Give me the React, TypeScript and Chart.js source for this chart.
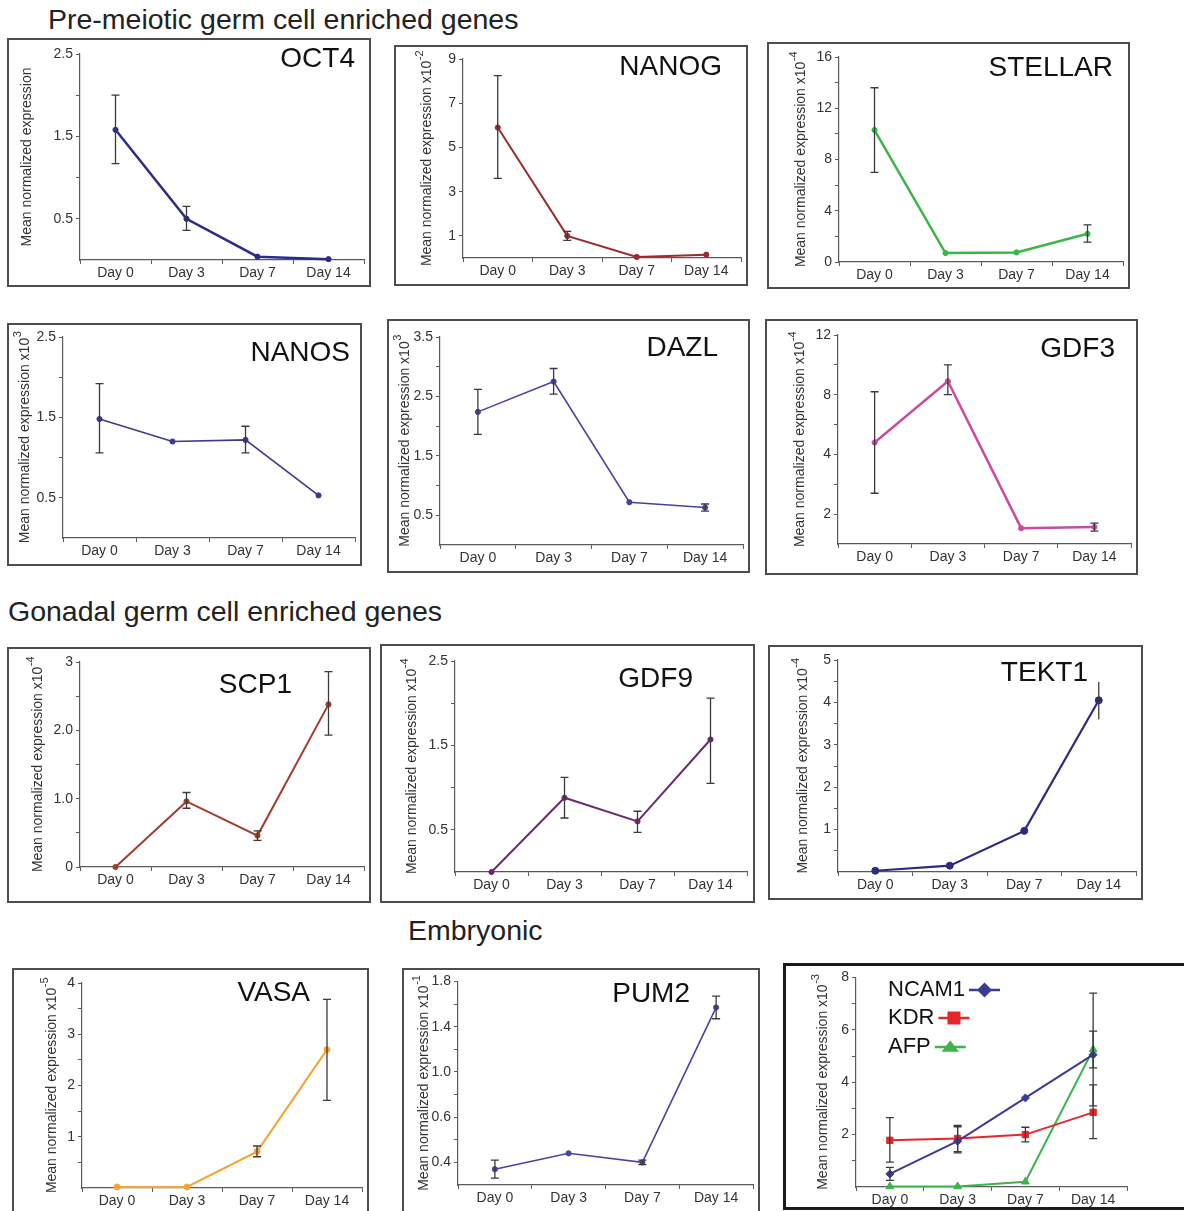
import React, { useEffect, useRef } from 'react';
import { Chart, registerables, LinearScale } from 'chart.js';

Chart.register(...registerables);

const FONT = "'Liberation Sans', Arial, Helvetica, sans-serif";
Chart.defaults.font.family = FONT;

// ---------------- DATA ----------------
const DAYS = ['Day 0', 'Day 3', 'Day 7', 'Day 14'];

const OCT4_MEAN = [1.58, 0.5, 0.04, 0.01];
const OCT4_HI = [2.0, 0.65, null, null];
const OCT4_LO = [1.17, 0.36, null, null];
const OCT4_TICKS = [0.5, 1, 1.5, 2, 2.5];
const OCT4_TICK_LABELS = ['0.5', '', '1.5', '', '2.5'];

const NANOG_MEAN = [5.9, 1.0, 0.05, 0.15];
const NANOG_HI = [8.25, 1.2, null, null];
const NANOG_LO = [3.6, 0.8, null, null];
const NANOG_TICKS = [1, 3, 5, 7, 9];
const NANOG_TICK_LABELS = ['1', '3', '5', '7', '9'];

const STELLAR_MEAN = [10.3, 0.7, 0.75, 2.2];
const STELLAR_HI = [13.6, null, null, 2.9];
const STELLAR_LO = [7.0, null, null, 1.55];
const STELLAR_TICKS = [0, 2, 4, 6, 8, 10, 12, 14, 16];
const STELLAR_TICK_LABELS = ['0', '', '4', '', '8', '', '12', '', '16'];

const NANOS_MEAN = [1.48, 1.2, 1.22, 0.53];
const NANOS_HI = [1.92, null, 1.39, null];
const NANOS_LO = [1.06, null, 1.06, null];
const NANOS_TICKS = [0.5, 1, 1.5, 2, 2.5];
const NANOS_TICK_LABELS = ['0.5', '', '1.5', '', '2.5'];

const DAZL_MEAN = [2.24, 2.75, 0.72, 0.63];
const DAZL_HI = [2.62, 2.97, null, 0.69];
const DAZL_LO = [1.86, 2.54, null, 0.57];
const DAZL_TICKS = [0.5, 1, 1.5, 2, 2.5, 3, 3.5];
const DAZL_TICK_LABELS = ['0.5', '', '1.5', '', '2.5', '', '3.5'];

const GDF3_MEAN = [4.8, 8.9, 1.53, 1.57];
const GDF3_HI = [8.2, 10.0, null, 1.7];
const GDF3_LO = [2.7, 8.0, null, 1.43];
const GDF3_TICKS = [2, 3, 4, 6, 8, 10, 12];
const GDF3_TICK_LABELS = ['2', '', '4', '', '8', '', '12'];
const GDF3_AXIS_VALUES = [2, 4, 8, 12];
const GDF3_AXIS_STEPS = [0.5, 1.5, 2.5, 3.5];

const SCP1_MEAN = [0.0, 0.96, 0.46, 2.38];
const SCP1_HI = [null, 1.09, 0.53, 2.86];
const SCP1_LO = [null, 0.86, 0.39, 1.93];
const SCP1_TICKS = [0, 0.5, 1, 1.5, 2, 2.5, 3];
const SCP1_TICK_LABELS = ['0', '', '1.0', '', '2.0', '', '3'];

const GDF9_MEAN = [0.0, 0.88, 0.6, 1.57];
const GDF9_HI = [null, 1.12, 0.72, 2.06];
const GDF9_LO = [null, 0.64, 0.47, 1.05];
const GDF9_TICKS = [0.5, 1, 1.5, 2, 2.5];
const GDF9_TICK_LABELS = ['0.5', '', '1.5', '', '2.5'];

const TEKT1_MEAN = [0.03, 0.15, 0.97, 4.05];
const TEKT1_HI = [null, null, null, 4.48];
const TEKT1_LO = [null, null, null, 3.6];
const TEKT1_TICKS = [0.5, 1, 1.5, 2, 2.5, 3, 3.5, 4, 4.5, 5];
const TEKT1_TICK_LABELS = ['', '1', '', '2', '', '3', '', '4', '', '5'];

const VASA_MEAN = [0.02, 0.02, 0.71, 2.7];
const VASA_HI = [null, null, 0.82, 3.68];
const VASA_LO = [null, null, 0.61, 1.71];
const VASA_TICKS = [0.5, 1, 1.5, 2, 2.5, 3, 3.5, 4];
const VASA_TICK_LABELS = ['', '1', '', '2', '', '3', '', '4'];

const PUM2_MEAN = [0.37, 0.44, 0.4, 1.57];
const PUM2_HI = [0.41, null, 0.41, 1.67];
const PUM2_LO = [0.33, null, 0.39, 1.47];
const PUM2_TICKS = [0.4, 0.5, 0.6, 0.8, 1.0, 1.2, 1.4, 1.6, 1.8];
const PUM2_TICK_LABELS = ['0.4', '', '0.6', '', '1.0', '', '1.4', '', '1.8'];
const PUM2_AXIS_VALUES = [0.4, 0.6, 1.0, 1.4, 1.8];
const PUM2_AXIS_STEPS = [1, 2, 3, 4, 5];

const NCAM1_MEAN = [0.5, 1.75, 3.4, 5.05];
const NCAM1_HI = [0.75, 2.3, null, 5.95];
const NCAM1_LO = [0.25, 1.3, null, 4.55];
const KDR_MEAN = [1.78, 1.85, 2.0, 2.85];
const KDR_HI = [2.65, 2.35, 2.28, 3.9];
const KDR_LO = [0.95, 1.35, 1.72, 1.85];
const AFP_MEAN = [0.02, 0.02, 0.2, 5.25];
const AFP_HI = [null, null, null, 7.4];
const AFP_LO = [null, null, null, 3.1];
const EMB_TICKS = [1, 2, 3, 4, 5, 6, 7, 8];
const EMB_TICK_LABELS = ['', '2', '', '4', '', '6', '', '8'];

const Y_TITLE = 'Mean normalized expression';

// ---------------- custom piecewise axis ----------------
class PiecewiseScale extends LinearScale {
  static id = 'piecewise';
  toU(v: number): number {
    const av: number[] = (this.options as any).anchorValues;
    const au: number[] = (this.options as any).anchorUnits;
    let i = 0;
    while (i < av.length - 2 && v > av[i + 1]) i++;
    return au[i] + ((v - av[i]) * (au[i + 1] - au[i])) / (av[i + 1] - av[i]);
  }
  configure() {
    super.configure();
    const s = this.toU(this.min);
    const e = this.toU(this.max);
    (this as any)._startValue = s;
    (this as any)._endValue = e;
    (this as any)._valueRange = e - s;
  }
  getPixelForValue(v: any) {
    if (v === null || v === undefined || Number.isNaN(v)) return NaN;
    return this.getPixelForDecimal((this.toU(v) - (this as any)._startValue) / (this as any)._valueRange);
  }
}
Chart.register(PiecewiseScale as any);

// ---------------- plugins ----------------
const AXIS_COLOR = '#5a5a5a';
const TEXT_COLOR = '#333';

const errorBarPlugin = {
  id: 'errorBars',
  afterDatasetsDraw(chart: any, _args: any, opts: any) {
    const ctx = chart.ctx;
    const y = chart.scales.y;
    const cap = opts && typeof opts.cap === 'number' ? opts.cap : 4;
    chart.data.datasets.forEach((ds: any, di: number) => {
      if (!ds.errHi) return;
      const meta = chart.getDatasetMeta(di);
      ds.errHi.forEach((hi: any, j: number) => {
        const lo = ds.errLo[j];
        if (hi == null || lo == null) return;
        const x = meta.data[j].x;
        const yh = y.getPixelForValue(hi);
        const yl = y.getPixelForValue(lo);
        ctx.save();
        ctx.strokeStyle = '#3a3a3a';
        ctx.lineWidth = 1.3;
        ctx.beginPath();
        ctx.moveTo(x, yh);
        ctx.lineTo(x, yl);
        if (cap > 0) {
          ctx.moveTo(x - cap, yh);
          ctx.lineTo(x + cap, yh);
          ctx.moveTo(x - cap, yl);
          ctx.lineTo(x + cap, yl);
        }
        ctx.stroke();
        ctx.restore();
      });
    });
  },
};

const yTitlePlugin = {
  id: 'yTitle',
  afterDraw(chart: any, _args: any, opts: any) {
    if (!opts || !opts.text) return;
    const ctx = chart.ctx;
    const area = chart.chartArea;
    const cy = (area.top + area.bottom) / 2;
    const mainFont = `${opts.size}px ${FONT}`;
    const supFont = `${opts.supSize}px ${FONT}`;
    ctx.save();
    ctx.translate(opts.x, cy);
    ctx.rotate(-Math.PI / 2);
    ctx.fillStyle = TEXT_COLOR;
    ctx.textBaseline = 'middle';
    ctx.textAlign = 'left';
    ctx.font = mainFont;
    const w1 = ctx.measureText(opts.text).width;
    ctx.font = supFont;
    const w2 = opts.sup ? ctx.measureText(opts.sup).width : 0;
    const x0 = -(w1 + w2) / 2;
    ctx.font = mainFont;
    ctx.fillText(opts.text, x0, 0);
    if (opts.sup) {
      ctx.font = supFont;
      ctx.fillText(opts.sup, x0 + w1 + 0.5, -opts.size * 0.5);
    }
    ctx.restore();
  },
};

function drawMarker(ctx: any, style: string, x: number, y: number, r: number, color: string) {
  ctx.fillStyle = color;
  ctx.beginPath();
  if (style === 'rectRot') {
    ctx.moveTo(x, y - r);
    ctx.lineTo(x + r, y);
    ctx.lineTo(x, y + r);
    ctx.lineTo(x - r, y);
  } else if (style === 'rect') {
    ctx.rect(x - r, y - r, 2 * r, 2 * r);
  } else {
    ctx.moveTo(x, y - r * 0.8);
    ctx.lineTo(x + r * 1.1, y + r * 0.6);
    ctx.lineTo(x - r * 1.1, y + r * 0.6);
  }
  ctx.closePath();
  ctx.fill();
}

const inlineLegendPlugin = {
  id: 'inlineLegend',
  afterDraw(chart: any, _args: any, opts: any) {
    if (!opts || !opts.display) return;
    const ctx = chart.ctx;
    ctx.save();
    ctx.font = `${opts.fontSize}px ${FONT}`;
    ctx.textBaseline = 'middle';
    ctx.textAlign = 'left';
    chart.data.datasets.forEach((ds: any, i: number) => {
      const y = opts.ys[i];
      ctx.fillStyle = '#111';
      ctx.fillText(ds.label, opts.x, y);
      const w = ctx.measureText(ds.label).width;
      const x0 = opts.x + w + 4;
      const x1 = x0 + opts.lineLen;
      ctx.strokeStyle = ds.borderColor;
      ctx.lineWidth = 2.5;
      ctx.beginPath();
      ctx.moveTo(x0, y);
      ctx.lineTo(x1, y);
      ctx.stroke();
      drawMarker(ctx, ds.pointStyle, (x0 + x1) / 2, y, opts.markerR[i], ds.borderColor);
    });
    ctx.restore();
  },
};

// ---------------- layout / style config ----------------
type Series = {
  label: string;
  mean: number[];
  hi: (number | null)[];
  lo: (number | null)[];
  color: string;
  width: number;
  pointStyle?: string;
  radius?: number;
};

type PanelCfg = {
  key: string;
  box: number[];
  plot: number[];
  bw: number;
  borderColor: string;
  titleX: number;
  unit: string;
  sup: string;
  yMin: number;
  yMax: number;
  ticks: number[];
  tickLabels: string[];
  axisValues?: number[];
  axisSteps?: number[];
  series: Series[];
  cap?: number;
  legend?: boolean;
};

const PANEL_BORDER = '#4d4d4d';

const PANELS: PanelCfg[] = [
  {
    key: 'OCT4', box: [7, 38, 371, 287], plot: [80, 54, 365, 260], bw: 2, borderColor: PANEL_BORDER,
    titleX: 27, unit: '', sup: '', yMin: 0, yMax: 2.5, ticks: OCT4_TICKS, tickLabels: OCT4_TICK_LABELS,
    series: [{ label: 'OCT4', mean: OCT4_MEAN, hi: OCT4_HI, lo: OCT4_LO, color: '#2e2b88', width: 2.5 }],
  },
  {
    key: 'NANOG', box: [394, 45, 748, 286], plot: [463, 59, 742, 258], bw: 2, borderColor: PANEL_BORDER,
    titleX: 427, unit: ' x10', sup: '-2', yMin: 0, yMax: 9, ticks: NANOG_TICKS, tickLabels: NANOG_TICK_LABELS,
    series: [{ label: 'NANOG', mean: NANOG_MEAN, hi: NANOG_HI, lo: NANOG_LO, color: '#9b2b2d', width: 2 }],
  },
  {
    key: 'STELLAR', box: [767, 42, 1130, 289], plot: [839, 57, 1123, 262], bw: 2, borderColor: PANEL_BORDER,
    titleX: 801, unit: ' x10', sup: '-4', yMin: 0, yMax: 16, ticks: STELLAR_TICKS, tickLabels: STELLAR_TICK_LABELS,
    series: [{ label: 'STELLAR', mean: STELLAR_MEAN, hi: STELLAR_HI, lo: STELLAR_LO, color: '#3bb54a', width: 2.5 }],
  },
  {
    key: 'NANOS', box: [7, 323, 362, 566], plot: [63, 337, 355, 538], bw: 2, borderColor: PANEL_BORDER,
    titleX: 25, unit: ' x10', sup: '3', yMin: 0, yMax: 2.5, ticks: NANOS_TICKS, tickLabels: NANOS_TICK_LABELS,
    series: [{ label: 'NANOS', mean: NANOS_MEAN, hi: NANOS_HI, lo: NANOS_LO, color: '#3c3a8c', width: 1.6 }],
  },
  {
    key: 'DAZL', box: [387, 319, 750, 573], plot: [440, 337, 745, 545], bw: 2, borderColor: PANEL_BORDER,
    titleX: 405, unit: ' x10', sup: '3', yMin: 0, yMax: 3.5, ticks: DAZL_TICKS, tickLabels: DAZL_TICK_LABELS,
    series: [{ label: 'DAZL', mean: DAZL_MEAN, hi: DAZL_HI, lo: DAZL_LO, color: '#4544a0', width: 1.6 }],
  },
  {
    key: 'GDF3', box: [765, 319, 1138, 575], plot: [838, 335, 1131, 544], bw: 2, borderColor: PANEL_BORDER,
    titleX: 800, unit: ' x10', sup: '-4', yMin: 1, yMax: 12, ticks: GDF3_TICKS, tickLabels: GDF3_TICK_LABELS,
    axisValues: GDF3_AXIS_VALUES, axisSteps: GDF3_AXIS_STEPS,
    series: [{ label: 'GDF3', mean: GDF3_MEAN, hi: GDF3_HI, lo: GDF3_LO, color: '#c64d9f', width: 2.5 }],
  },
  {
    key: 'SCP1', box: [7, 647, 371, 903], plot: [80, 662, 367, 867], bw: 2, borderColor: PANEL_BORDER,
    titleX: 38, unit: ' x10', sup: '-4', yMin: 0, yMax: 3, ticks: SCP1_TICKS, tickLabels: SCP1_TICK_LABELS,
    series: [{ label: 'SCP1', mean: SCP1_MEAN, hi: SCP1_HI, lo: SCP1_LO, color: '#a13d2a', width: 2 }],
  },
  {
    key: 'GDF9', box: [380, 644, 755, 903], plot: [455, 661, 747, 872], bw: 2, borderColor: PANEL_BORDER,
    titleX: 412, unit: ' x10', sup: '-4', yMin: 0, yMax: 2.5, ticks: GDF9_TICKS, tickLabels: GDF9_TICK_LABELS,
    series: [{ label: 'GDF9', mean: GDF9_MEAN, hi: GDF9_HI, lo: GDF9_LO, color: '#6a2c6c', width: 2 }],
  },
  {
    key: 'TEKT1', box: [768, 645, 1143, 900], plot: [838, 660, 1136, 872], bw: 2, borderColor: PANEL_BORDER,
    titleX: 803, unit: ' x10', sup: '-4', yMin: 0, yMax: 5, ticks: TEKT1_TICKS, tickLabels: TEKT1_TICK_LABELS, cap: 0,
    series: [{ label: 'TEKT1', mean: TEKT1_MEAN, hi: TEKT1_HI, lo: TEKT1_LO, color: '#2c2b80', width: 2.2, radius: 3.5 }],
  },
  {
    key: 'VASA', box: [12, 968, 369, 1230], plot: [82, 983, 367, 1188], bw: 2, borderColor: PANEL_BORDER,
    titleX: 52, unit: ' x10', sup: '-5', yMin: 0, yMax: 4, ticks: VASA_TICKS, tickLabels: VASA_TICK_LABELS,
    series: [{ label: 'VASA', mean: VASA_MEAN, hi: VASA_HI, lo: VASA_LO, color: '#f4a431', width: 2, radius: 3 }],
  },
  {
    key: 'PUM2', box: [402, 968, 760, 1230], plot: [458, 981, 757, 1185], bw: 2, borderColor: PANEL_BORDER,
    titleX: 424, unit: ' x10', sup: '-1', yMin: 0.3, yMax: 1.8, ticks: PUM2_TICKS, tickLabels: PUM2_TICK_LABELS,
    axisValues: PUM2_AXIS_VALUES, axisSteps: PUM2_AXIS_STEPS,
    series: [{ label: 'PUM2', mean: PUM2_MEAN, hi: PUM2_HI, lo: PUM2_LO, color: '#4645a0', width: 1.6 }],
  },
  {
    key: 'EMB', box: [783, 963, 1192, 1210], plot: [856, 977, 1127, 1187], bw: 3, borderColor: '#1a1a1a',
    titleX: 823, unit: ' x10', sup: '-3', yMin: 0, yMax: 8, ticks: EMB_TICKS, tickLabels: EMB_TICK_LABELS, legend: true,
    series: [
      { label: 'NCAM1', mean: NCAM1_MEAN, hi: NCAM1_HI, lo: NCAM1_LO, color: '#3a3b93', width: 2, pointStyle: 'rectRot', radius: 4 },
      { label: 'KDR', mean: KDR_MEAN, hi: KDR_HI, lo: KDR_LO, color: '#e8262a', width: 2, pointStyle: 'rect', radius: 4.5 },
      { label: 'AFP', mean: AFP_MEAN, hi: AFP_HI, lo: AFP_LO, color: '#3cb44b', width: 2, pointStyle: 'triangle', radius: 4.5 },
    ],
  },
];

const GENE_LABELS = [
  { text: 'OCT4', right: 355, cy: 58 },
  { text: 'NANOG', right: 722, cy: 66 },
  { text: 'STELLAR', right: 1113, cy: 67 },
  { text: 'NANOS', right: 350, cy: 352 },
  { text: 'DAZL', right: 718, cy: 347 },
  { text: 'GDF3', right: 1115, cy: 348 },
  { text: 'SCP1', right: 292, cy: 684 },
  { text: 'GDF9', right: 693, cy: 678 },
  { text: 'TEKT1', right: 1088, cy: 672 },
  { text: 'VASA', right: 310, cy: 992 },
  { text: 'PUM2', right: 690, cy: 993 },
];

const SECTION_TITLES = [
  { text: 'Pre-meiotic germ cell enriched genes', left: 48, cy: 19 },
  { text: 'Gonadal germ cell enriched genes', left: 8, cy: 611 },
  { text: 'Embryonic', left: 408, cy: 930 },
];

function Panel({ cfg }: { cfg: PanelCfg }) {
  const ref = useRef<HTMLCanvasElement>(null);
  const [l, t, r, b] = cfg.box;
  const bw = cfg.bw;
  const W = r - l - 2 * bw;
  const H = b - t - 2 * bw;

  useEffect(() => {
    const cx0 = l + bw;
    const cy0 = t + bw;
    const [pl, ptop, pr, pbot] = cfg.plot;
    const yW = pl - cx0;
    const padTop = ptop - cy0;
    const padRight = cx0 + W - pr;
    const below = cy0 + H - pbot;
    const xH = Math.min(24, below);
    const padBottom = Math.max(0, below - xH);

    const datasets = cfg.series.map((s) => ({
      label: s.label,
      data: s.mean,
      borderColor: s.color,
      backgroundColor: s.color,
      pointBackgroundColor: s.color,
      pointBorderColor: s.color,
      borderWidth: s.width,
      pointRadius: s.radius ?? 2.6,
      pointStyle: s.pointStyle ?? 'circle',
      pointBorderWidth: 1,
      tension: 0,
      clip: false,
      errHi: s.hi,
      errLo: s.lo,
    }));

    const yScale: any = {
      type: cfg.axisValues ? 'piecewise' : 'linear',
      min: cfg.yMin,
      max: cfg.yMax,
      grid: { drawOnChartArea: false, drawTicks: true, tickLength: 4, color: AXIS_COLOR },
      border: { color: AXIS_COLOR, width: 1.2 },
      ticks: {
        color: TEXT_COLOR,
        font: { size: 14 },
        padding: 3,
        autoSkip: false,
        callback: (_v: any, i: number) => cfg.tickLabels[i],
      },
      afterBuildTicks: (s: any) => {
        s.ticks = cfg.ticks.map((v) => ({ value: v }));
      },
      afterFit: (s: any) => {
        s.width = yW;
      },
      title: { display: false },
    };
    if (cfg.axisValues) {
      yScale.anchorValues = cfg.axisValues;
      yScale.anchorUnits = cfg.axisSteps;
    }

    const chart = new Chart(ref.current as HTMLCanvasElement, {
      type: 'line',
      data: { labels: DAYS, datasets: datasets as any },
      options: {
        responsive: false,
        animation: false,
        events: [],
        layout: { padding: { left: 0, top: padTop, right: padRight, bottom: padBottom } },
        plugins: {
          legend: { display: false },
          tooltip: { enabled: false },
          errorBars: { cap: cfg.cap ?? 4 },
          yTitle: { text: Y_TITLE + cfg.unit, sup: cfg.sup, x: cfg.titleX - cx0, size: 14, supSize: 11 },
          inlineLegend: cfg.legend
            ? { display: true, x: 888 - cx0, ys: [990 - cy0, 1018 - cy0, 1047 - cy0], fontSize: 22, lineLen: 31, markerR: [7.5, 6.5, 8] }
            : { display: false },
        } as any,
        scales: {
          x: {
            type: 'category',
            offset: true,
            grid: { offset: true, drawOnChartArea: false, drawTicks: true, tickLength: 4, color: AXIS_COLOR },
            border: { color: AXIS_COLOR, width: 1.2 },
            ticks: { color: TEXT_COLOR, font: { size: 14 }, padding: 1, maxRotation: 0, autoSkip: false },
            afterFit: (s: any) => {
              s.height = xH;
            },
          } as any,
          y: yScale,
        },
      },
      plugins: [errorBarPlugin as any, yTitlePlugin as any, inlineLegendPlugin as any],
    });
    return () => chart.destroy();
  }, []);

  return (
    <div
      style={{
        position: 'absolute',
        left: l,
        top: t,
        width: r - l,
        height: b - t,
        border: `${bw}px solid ${cfg.borderColor}`,
        boxSizing: 'border-box',
        background: '#fff',
      }}
    >
      <canvas ref={ref} width={W} height={H} style={{ display: 'block', width: W, height: H }} />
    </div>
  );
}

export default function App() {
  return (
    <div
      style={{
        position: 'absolute',
        left: 0,
        top: 0,
        width: 1184,
        height: 1211,
        overflow: 'hidden',
        background: '#fff',
        fontFamily: FONT,
      }}
    >
      {SECTION_TITLES.map((s) => (
        <div
          key={s.text}
          style={{
            position: 'absolute',
            left: s.left,
            top: s.cy - 14.25,
            fontSize: 28.5,
            lineHeight: '28.5px',
            color: '#222',
            whiteSpace: 'nowrap',
          }}
        >
          {s.text}
        </div>
      ))}
      {PANELS.map((p) => (
        <Panel key={p.key} cfg={p} />
      ))}
      {GENE_LABELS.map((g) => (
        <div
          key={g.text}
          style={{
            position: 'absolute',
            right: 1184 - g.right,
            top: g.cy - 14,
            fontSize: 28,
            lineHeight: '28px',
            color: '#111',
            whiteSpace: 'nowrap',
          }}
        >
          {g.text}
        </div>
      ))}
    </div>
  );
}
